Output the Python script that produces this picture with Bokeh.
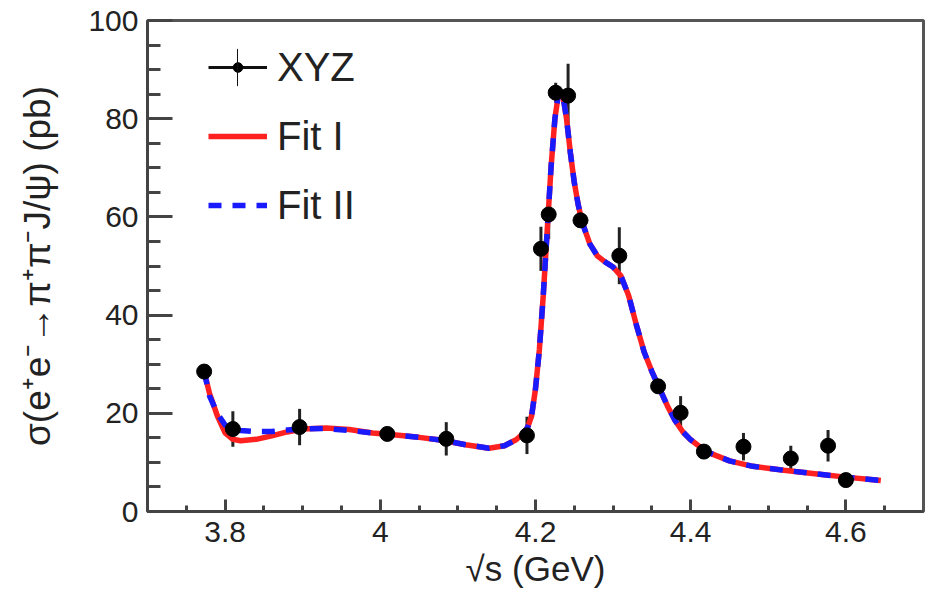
import math
from bokeh.plotting import figure
from bokeh.models import (ColumnDataSource, Range1d, FixedTicker, Legend, LegendItem, Whisker, Quad)
from bokeh.embed import file_html
from bokeh.resources import INLINE

# ---- data ----
x_data = [3.773, 3.810, 3.896, 4.009, 4.085, 4.189, 4.207, 4.217, 4.226, 4.242,
          4.258, 4.308, 4.358, 4.387, 4.417, 4.468, 4.529, 4.577, 4.600]
y_data = [28.5, 16.8, 17.2, 15.8, 14.8, 15.5, 53.5, 60.5, 85.3, 84.7,
          59.3, 52.1, 25.5, 20.1, 12.2, 13.2, 10.8, 13.4, 6.4]
y_err = [1.0, 3.6, 3.7, 1.0, 3.4, 3.8, 4.5, 5.0, 2.0, 6.5,
         1.5, 5.8, 1.5, 3.4, 1.0, 2.8, 2.6, 3.2, 1.0]

fit1_x = [3.773, 3.78, 3.79, 3.80, 3.81, 3.82, 3.84, 3.86, 3.88, 3.90, 3.93, 3.96, 3.99,
          4.02, 4.05, 4.08, 4.11, 4.14, 4.16, 4.175, 4.185, 4.19, 4.195, 4.20, 4.205,
          4.21, 4.215, 4.22, 4.225, 4.23, 4.235, 4.24, 4.245, 4.25, 4.255, 4.26, 4.27,
          4.28, 4.29, 4.30, 4.31, 4.32, 4.33, 4.34, 4.35, 4.36, 4.37, 4.38, 4.39, 4.40,
          4.42, 4.45, 4.48, 4.52, 4.56, 4.60, 4.645]
fit1_y = [28.5, 24.0, 19.5, 16.0, 14.7, 14.4, 14.7, 15.4, 16.2, 16.8, 17.0, 16.7, 16.0,
          15.6, 15.1, 14.5, 13.6, 12.9, 13.4, 14.6, 16.0, 17.2, 19.5, 25.0, 33.0,
          44.0, 57.0, 70.0, 80.0, 85.5, 85.0, 80.0, 73.0, 67.0, 62.5, 59.0, 54.5,
          52.0, 50.8, 49.8, 48.0, 44.0, 38.0, 32.5, 28.5, 25.0, 21.5, 18.5, 16.2, 14.6,
          12.2, 10.3, 9.2, 8.4, 7.7, 7.0, 6.3]

fit2_x = [3.773, 3.78, 3.79, 3.80, 3.81, 3.82, 3.84, 3.86, 3.88, 3.90, 3.93, 3.96, 3.99,
          4.02, 4.05, 4.08, 4.11, 4.14, 4.16, 4.175, 4.185, 4.19, 4.195, 4.20, 4.205,
          4.21, 4.215, 4.22, 4.225, 4.23, 4.235, 4.24, 4.245, 4.25, 4.255, 4.26, 4.27,
          4.28, 4.29, 4.30, 4.31, 4.32, 4.33, 4.34, 4.35, 4.36, 4.37, 4.38, 4.39, 4.40,
          4.42, 4.45, 4.48, 4.52, 4.56, 4.60, 4.645]
fit2_y = [28.5, 23.5, 20.0, 17.6, 16.8, 16.5, 16.3, 16.3, 16.6, 16.8, 16.9, 16.5, 16.0,
          15.6, 15.1, 14.5, 13.6, 12.9, 13.4, 14.6, 16.0, 17.2, 19.5, 25.0, 33.0,
          44.0, 57.0, 70.0, 80.0, 85.5, 85.0, 80.0, 73.0, 67.0, 62.5, 59.0, 54.5,
          52.0, 50.8, 49.8, 48.0, 44.0, 38.0, 32.5, 28.5, 25.0, 21.5, 18.5, 16.2, 14.6,
          12.2, 10.3, 9.2, 8.4, 7.7, 7.0, 6.3]

x_lo, x_hi = 3.7, 4.7
y_lo, y_hi = 0, 100
x_ticks = [3.8, 4.0, 4.2, 4.4, 4.6]
x_tick_labels = ["3.8", "4", "4.2", "4.4", "4.6"]
x_minor = [3.75, 3.85, 3.9, 3.95, 4.05, 4.1, 4.15, 4.25, 4.3, 4.35, 4.45, 4.5, 4.55, 4.65]
y_ticks = [0, 20, 40, 60, 80, 100]
y_minor = [5, 10, 15, 25, 30, 35, 45, 50, 55, 65, 70, 75, 85, 90, 95]

series_labels = ["XYZ", "Fit I", "Fit II"]
x_title = "\u221as (GeV)"
y_title = "\u03c3(e\u207ae\u207b\u2192\u03c0\u207a\u03c0\u207bJ/\u03c8) (pb)"

FONT = "Liberation Sans"
TXT = "#222222"

p = figure(frame_width=776, frame_height=491, output_backend="svg", toolbar_location=None,
           x_range=Range1d(x_lo, x_hi), y_range=Range1d(y_lo, y_hi),
           min_border_left=147, min_border_right=6, min_border_top=20, min_border_bottom=85)
p.background_fill_color = "white"
p.border_fill_color = "white"
p.grid.visible = False
p.outline_line_color = "#555555"
p.outline_line_width = 3

src = ColumnDataSource(dict(x=x_data, y=y_data,
                            lo=[v - e for v, e in zip(y_data, y_err)],
                            hi=[v + e for v, e in zip(y_data, y_err)]))

# fits
r_fit1 = p.line(fit1_x, fit1_y, line_color="#ff2020", line_width=5.5)
r_fit2 = p.line(fit2_x, fit2_y, line_color="#1a1aff", line_width=5.5, line_dash="13 11")

# data error bars and points
p.add_layout(Whisker(source=src, base="x", lower="lo", upper="hi", line_color="#222222",
                     line_width=3, upper_head=None, lower_head=None))
r_hbar = p.segment(x0="x", y0="y", x1="x", y1="y", source=src, line_color="#111111", line_width=3)
r_pts = p.scatter("x", "y", source=src, size=15, color="#000000")
# legend-only glyph for the vertical arm of the "XYZ" marker (outside the visible x range)
r_vbar = p.add_glyph(ColumnDataSource(dict(l=[x_lo - 2.0], r=[x_lo - 1.0], b=[y_lo], t=[y_hi])),
                     Quad(left="l", right="r", bottom="b", top="t",
                          fill_alpha=0, line_color="#111111", line_width=2.5))

# axes
for ax in (p.xaxis[0], p.yaxis[0]):
    ax.axis_line_width = 3
    ax.axis_line_color = "#444444"
    ax.major_tick_line_color = "#444444"
    ax.minor_tick_line_color = "#444444"
    ax.major_tick_line_width = 3
    ax.minor_tick_line_width = 3
    ax.major_tick_out = 0
    ax.minor_tick_out = 0
    ax.major_label_text_font = FONT
    ax.major_label_text_font_size = "30px"
    ax.major_label_text_color = TXT
    ax.axis_label_text_font = FONT
    ax.axis_label_text_font_style = "normal"
    ax.axis_label_text_color = TXT

p.xaxis.ticker = FixedTicker(ticks=x_ticks, minor_ticks=x_minor)
p.xaxis.major_label_overrides = {t: l for t, l in zip(x_ticks, x_tick_labels)}
p.xaxis.major_tick_in = 12
p.xaxis.minor_tick_in = 6
p.xaxis.major_label_standoff = 10
p.xaxis.axis_label = x_title
p.xaxis.axis_label_text_font_size = "35px"
p.xaxis.axis_label_standoff = 4

p.yaxis.ticker = FixedTicker(ticks=y_ticks, minor_ticks=y_minor)
p.yaxis.major_tick_in = 25
p.yaxis.minor_tick_in = 13
p.yaxis.major_label_standoff = 9
p.yaxis.axis_label = y_title
p.yaxis.axis_label_text_font_size = "37px"
p.yaxis.axis_label_standoff = 27

legend = Legend(items=[
    LegendItem(label=series_labels[0], renderers=[r_hbar, r_pts]),
    LegendItem(label=series_labels[1], renderers=[r_fit1]),
    LegendItem(label=series_labels[2], renderers=[r_fit2]),
], location=(61, 283))
legend.border_line_color = None
legend.background_fill_alpha = 0
legend.padding = 0
legend.margin = 0
legend.spacing = 23
legend.glyph_width = 59
legend.glyph_height = 24
legend.label_height = 46
legend.label_standoff = 10
legend.label_text_font = FONT
legend.label_text_font_size = "40px"
legend.label_text_color = TXT
p.add_layout(legend)

# second legend: only draws the vertical error-bar arm of the XYZ legend marker
vleg = Legend(items=[LegendItem(label=" ", renderers=[r_vbar])], location=(89.5, 422))
vleg.border_line_color = None
vleg.background_fill_alpha = 0
vleg.padding = 0
vleg.margin = 0
vleg.glyph_width = 1
vleg.glyph_height = 44
vleg.label_height = 44
vleg.label_standoff = 0
vleg.label_text_font_size = "2px"
p.add_layout(vleg)

open("out.html", "w").write(file_html(p, INLINE))
